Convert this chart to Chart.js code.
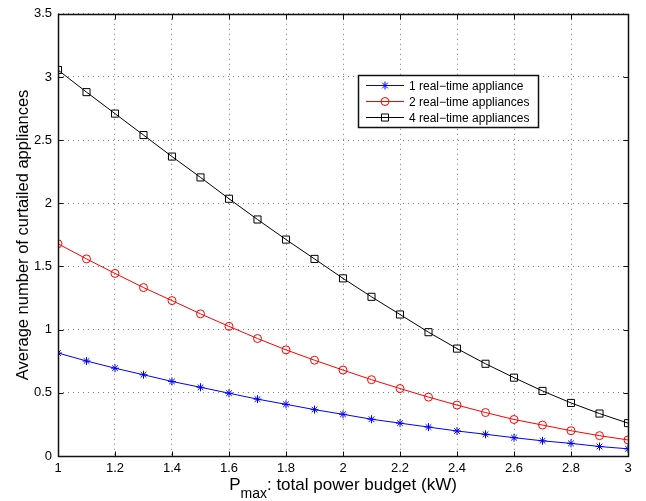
<!DOCTYPE html>
<html>
<head>
<meta charset="utf-8">
<script src="https://cdn.jsdelivr.net/npm/chart.js@4.4.1/dist/chart.umd.min.js"></script>
<style>
    html, body { margin: 0; padding: 0; background: #fff; }
</style>
</head>
<body>
<canvas id="canvas1" width="646" height="501"></canvas>
<script>
// values
let budgets = [1.0, 1.1, 1.2, 1.3, 1.4, 1.5, 1.6, 1.7, 1.8, 1.9, 2.0,
    2.1, 2.2, 2.3, 2.4, 2.5, 2.6, 2.7, 2.8, 2.9, 3.0];
let oneAppliance = [0.815, 0.752, 0.695, 0.643, 0.59, 0.544, 0.497, 0.45, 0.409, 0.367, 0.33,
    0.291, 0.26, 0.229, 0.198, 0.172, 0.145, 0.12, 0.1, 0.075, 0.057];
let twoAppliances = [1.68, 1.56, 1.445, 1.333, 1.23, 1.125, 1.026, 0.93, 0.84, 0.758, 0.68,
    0.604, 0.534, 0.466, 0.403, 0.344, 0.289, 0.245, 0.2, 0.161, 0.127];
let fourAppliances = [3.055, 2.88, 2.71, 2.54, 2.37, 2.205, 2.036, 1.872, 1.713, 1.56, 1.406,
    1.26, 1.12, 0.98, 0.85, 0.73, 0.62, 0.515, 0.42, 0.336, 0.26];
let seriesLabels = ['1 real\u2212time appliance', '2 real\u2212time appliances', '4 real\u2212time appliances'];
let yTitle = 'Average number of curtailed appliances';

let fontFamily = '"Liberation Sans", Arial, Helvetica, sans-serif';

function points(values) {
    return values.map(function (v, i) {
        return {x: budgets[i], y: v};
    });
}

function shortLabel(value) {
    return String(Math.round(value * 10) / 10);
}

let matlabPlugin = {
    id: 'matlab',
    afterDraw: function (chart) {
        let ctx = chart.ctx;
        let a = chart.chartArea;
        let xs = chart.scales.x;
        let ys = chart.scales.y;
        let l = Math.round(a.left) + 0.5, r = Math.round(a.right) + 0.5;
        let t = Math.round(a.top) + 0.5, b = Math.round(a.bottom) + 0.5;
        ctx.save();
        ctx.strokeStyle = '#111';
        ctx.lineWidth = 1.5;
        ctx.strokeRect(l, t, r - l, b - t);

        // inward ticks on all four sides
        ctx.lineWidth = 1;
        ctx.beginPath();
        xs.ticks.forEach(function (tk) {
            let px = Math.round(xs.getPixelForValue(tk.value)) + 0.5;
            ctx.moveTo(px, b); ctx.lineTo(px, b - 5);
            ctx.moveTo(px, t); ctx.lineTo(px, t + 5);
        });
        ys.ticks.forEach(function (tk) {
            let py = Math.round(ys.getPixelForValue(tk.value)) + 0.5;
            ctx.moveTo(l, py); ctx.lineTo(l + 5, py);
            ctx.moveTo(r, py); ctx.lineTo(r - 5, py);
        });
        ctx.stroke();

        // legend box
        let lx = 358.5, ly = 75.5, lw = 180, lh = 52;
        ctx.fillStyle = '#fff';
        ctx.fillRect(lx, ly, lw, lh);
        ctx.lineWidth = 1.5;
        ctx.strokeRect(lx, ly, lw, lh);
        ctx.font = '12px ' + fontFamily;
        ctx.textBaseline = 'middle';
        ctx.textAlign = 'left';
        chart.data.datasets.forEach(function (ds, i) {
            let cy = 85.5 + i * 16;
            ctx.strokeStyle = ds.borderColor;
            ctx.lineWidth = 1;
            ctx.beginPath();
            ctx.moveTo(366, cy);
            ctx.lineTo(404, cy);
            ctx.stroke();
            ctx.fillStyle = 'rgba(0,0,0,0)';
            Chart.helpers.drawPoint(ctx, {
                pointStyle: ds.pointStyle,
                radius: ds.pointRadius,
                borderWidth: 1,
                rotation: 0
            }, 385, cy);
            ctx.fillStyle = '#000';
            ctx.fillText(ds.label, 409, cy + 1);
        });

        // y axis title
        ctx.fillStyle = '#000';
        ctx.font = '16.5px ' + fontFamily;
        ctx.save();
        ctx.translate(22, (a.top + a.bottom) / 2);
        ctx.rotate(-Math.PI / 2);
        ctx.textAlign = 'center';
        ctx.textBaseline = 'alphabetic';
        ctx.fillText(yTitle, 0, 6);
        ctx.restore();

        // x axis title with subscript
        let big = '17px ' + fontFamily, small = '14px ' + fontFamily;
        let rest = ': total power budget (kW)';
        ctx.font = big;
        let wP = ctx.measureText('P').width;
        let wRest = ctx.measureText(rest).width;
        ctx.font = small;
        let wSub = ctx.measureText('max').width;
        let total = wP + wSub + wRest;
        let x0 = (a.left + a.right) / 2 - total / 2;
        ctx.textAlign = 'left';
        ctx.textBaseline = 'alphabetic';
        ctx.font = big;
        ctx.fillText('P', x0, 490);
        ctx.font = small;
        ctx.fillText('max', x0 + wP, 498);
        ctx.font = big;
        ctx.fillText(rest, x0 + wP + wSub, 490);
        ctx.restore();
    }
};

let ctx1 = document.getElementById('canvas1').getContext('2d');
let curtailChart = new Chart(ctx1, {
    type: 'line',
    data: {
        datasets: [
            {
                label: seriesLabels[0],
                data: points(oneAppliance),
                borderColor: '#0000ff',
                backgroundColor: 'rgba(0,0,0,0)',
                borderWidth: 1,
                pointStyle: 'star',
                pointRadius: 4,
                pointBorderWidth: 1,
                tension: 0
            },
            {
                label: seriesLabels[1],
                data: points(twoAppliances),
                borderColor: '#ff0000',
                backgroundColor: 'rgba(0,0,0,0)',
                borderWidth: 1,
                pointStyle: 'circle',
                pointRadius: 4,
                pointBorderWidth: 1,
                tension: 0
            },
            {
                label: seriesLabels[2],
                data: points(fourAppliances),
                borderColor: '#000000',
                backgroundColor: 'rgba(0,0,0,0)',
                borderWidth: 1,
                pointStyle: 'rect',
                pointRadius: 5,
                pointBorderWidth: 1,
                tension: 0
            }
        ]
    },
    options: {
        responsive: false,
        animation: false,
        devicePixelRatio: 1,
        layout: {padding: {left: 0, right: 18, top: 6, bottom: 0}},
        plugins: {
            legend: {display: false},
            tooltip: {enabled: false}
        },
        scales: {
            x: {
                type: 'linear',
                min: 1,
                max: 3,
                ticks: {
                    stepSize: 0.2,
                    color: '#000',
                    padding: 5,
                    maxRotation: 0,
                    font: {family: fontFamily, size: 13},
                    callback: shortLabel
                },
                grid: {
                    color: '#777',
                    drawTicks: false
                },
                border: {display: false, dash: [1, 4]},
                afterFit: function (scale) {
                    scale.height = 45;
                }
            },
            y: {
                min: 0,
                max: 3.5,
                ticks: {
                    stepSize: 0.5,
                    color: '#000',
                    padding: 6,
                    font: {family: fontFamily, size: 13},
                    callback: shortLabel
                },
                grid: {
                    color: '#777',
                    drawTicks: false
                },
                border: {display: false, dash: [1, 4]},
                afterFit: function (scale) {
                    scale.width = 58;
                }
            }
        }
    },
    plugins: [matlabPlugin]
});
</script>
</body>
</html>
